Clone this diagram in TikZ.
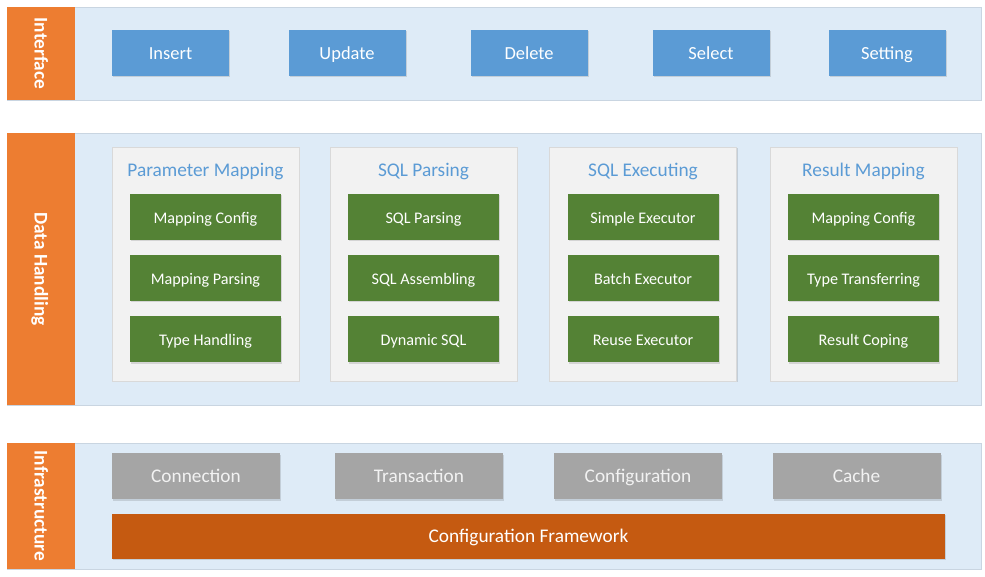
\documentclass[tikz,border=0pt]{standalone}
\usepackage{fontspec}
\setmainfont{Carlito}
\usetikzlibrary{shadows}

\definecolor{bandfill}{HTML}{DEEBF7}
\definecolor{bandline}{HTML}{C9D5E1}
\definecolor{tagorange}{HTML}{ED7D31}
\definecolor{opblue}{HTML}{5B9BD5}
\definecolor{stepgreen}{HTML}{548235}
\definecolor{groupfill}{HTML}{F2F2F2}
\definecolor{groupline}{HTML}{D9D9D9}
\definecolor{basegray}{HTML}{A5A5A5}
\definecolor{frameorange}{HTML}{C55A11}

\def\px{0.02cm} % one pixel of the layout

\tikzset{
  softshadow/.style={drop shadow={shadow xshift=0.6pt, shadow yshift=-0.6pt, opacity=0.18, fill=black!70}},
  even/.style={text height=1.6ex, text depth=0.1ex},
  band/.style={draw=bandline, fill=bandfill, minimum width=974*\px, inner sep=0pt, softshadow},
  tag/.style={fill=tagorange, rotate=-90, minimum height=68*\px, inner sep=0pt,
    text=white, font=\fontsize{11}{13}\selectfont\bfseries, even},
  opbox/.style={fill=opblue, minimum width=117*\px, minimum height=46*\px, inner sep=0pt,
    text=white, font=\fontsize{10.5}{12}\selectfont, even, softshadow},
  groupbox/.style={draw=groupline, fill=groupfill, minimum width=187*\px, minimum height=234*\px, inner sep=0pt, softshadow},
  grouptitle/.style={text=opblue, font=\fontsize{11}{13}\selectfont, inner sep=0pt, even},
  stepbox/.style={fill=stepgreen, minimum width=151*\px, minimum height=46*\px, inner sep=0pt,
    text=white, font=\fontsize{9.2}{11}\selectfont, even, softshadow},
  basebox/.style={fill=basegray, minimum width=168*\px, minimum height=46*\px, inner sep=0pt,
    text=groupfill, font=\fontsize{11}{13}\selectfont, even, softshadow},
  framebox/.style={fill=frameorange, minimum width=833*\px, minimum height=45*\px, inner sep=0pt,
    text=white, font=\fontsize{11}{13}\selectfont, even, softshadow}
}

\begin{document}
\begin{tikzpicture}[x=\px, y=-\px]
  \useasboundingbox (0,0) rectangle (985,577);

  % ==== INTERFACE ====
  \node[band, minimum height=93*\px] (iface) at (494,53.5) {};
  \node[tag, minimum width=93*\px] (ifacetag) at (41,53.5) {Interface};
  \foreach \x/\name/\txt in {170.5/ins/Insert, 347/upd/Update, 529/del/Delete, 711/sel/Select, 887/set/Setting}
    \node[opbox] (\name) at (\x,53) {\txt};

  % ==== DATA HANDLING ====
  \node[band, minimum height=272*\px] (data) at (494,269) {};
  \node[tag, minimum width=272*\px] (datatag) at (41,269) {Data Handling};
  \foreach \gx/\gname/\gtitle/\ga/\gb/\gc in {
      205.5/pm/Parameter Mapping/Mapping Config/Mapping Parsing/Type Handling,
      423.5/sp/SQL Parsing/SQL Parsing/SQL Assembling/Dynamic SQL,
      643/se/SQL Executing/Simple Executor/Batch Executor/Reuse Executor,
      863.5/rm/Result Mapping/Mapping Config/Type Transferring/Result Coping} {
    \node[groupbox] (\gname) at (\gx,264) {};
    \node[grouptitle] (\gname-title) at (\gx,170) {\gtitle};
    \node[stepbox] (\gname-1) at (\gx,217) {\ga};
    \node[stepbox] (\gname-2) at (\gx,278) {\gb};
    \node[stepbox] (\gname-3) at (\gx,339.5) {\gc};
  }

  % ==== INFRASTRUCTURE ====
  \node[band, minimum height=126*\px] (infra) at (494,506) {};
  \node[tag, minimum width=126*\px] (infratag) at (41,506) {Infrastructure};
  \foreach \x/\name/\txt in {196/conn/Connection, 419/trans/Transaction, 638/conf/Configuration, 856.5/cache/Cache}
    \node[basebox] (\name) at (\x,476.5) {\txt};
  \node[framebox] (frame) at (528.5,536.5) {Configuration Framework};

\end{tikzpicture}
\end{document}
